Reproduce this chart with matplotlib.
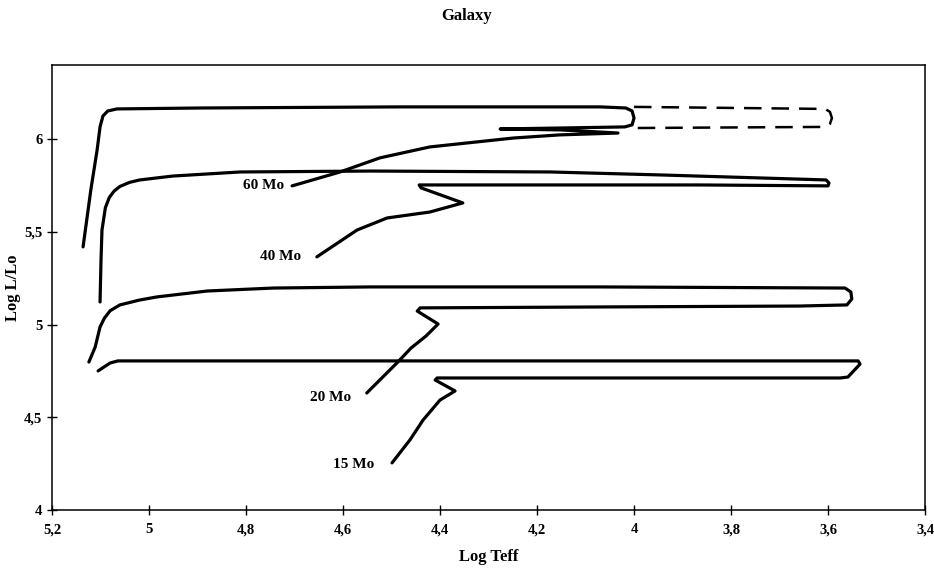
import numpy as np
import matplotlib
matplotlib.use("Agg")
import matplotlib.pyplot as plt
from matplotlib.ticker import FuncFormatter

# evolutionary tracks, log Teff / log L/Lo
teff_60 = [5.136, 5.120, 5.107, 5.101, 5.095, 5.085, 5.066, 4.895, 4.482, 4.070,
           4.017, 4.004, 4.000, 4.004, 4.019, 4.153, 4.276, 4.153, 4.033, 4.153,
           4.249, 4.421, 4.524, 4.606, 4.705]
lum_60 = [5.419, 5.726, 5.942, 6.066, 6.125, 6.152, 6.163, 6.168, 6.174, 6.174,
          6.168, 6.152, 6.114, 6.077, 6.066, 6.060, 6.055, 6.050, 6.033, 6.023,
          6.006, 5.958, 5.899, 5.823, 5.748]

# red excursion of the 60 Mo track (dashed)
teff_60r = [4.000, 3.606, 3.596, 3.592, 3.596, 3.606, 4.000]
lum_60r = [6.174, 6.163, 6.147, 6.114, 6.082, 6.066, 6.060]

teff_40 = [5.101, 5.099, 5.097, 5.090, 5.082, 5.072, 5.060, 5.040, 5.019, 4.951,
           4.812, 4.544, 4.173, 3.946, 3.604, 3.598, 3.600, 3.864, 4.173, 4.421,
           4.443, 4.439, 4.353, 4.421, 4.509, 4.571, 4.654]
lum_40 = [5.122, 5.348, 5.510, 5.630, 5.685, 5.720, 5.745, 5.767, 5.780, 5.801,
          5.823, 5.828, 5.823, 5.807, 5.780, 5.764, 5.748, 5.753, 5.753, 5.753,
          5.753, 5.737, 5.656, 5.607, 5.575, 5.510, 5.365]

teff_20 = [5.124, 5.111, 5.101, 5.092, 5.080, 5.060, 5.020, 4.984, 4.880, 4.744,
           4.544, 4.070, 3.565, 3.553, 3.551, 3.561, 3.658, 4.070, 4.441, 4.447,
           4.404, 4.429, 4.460, 4.487, 4.551]
lum_20 = [4.798, 4.879, 4.987, 5.035, 5.075, 5.106, 5.132, 5.149, 5.181, 5.197,
          5.203, 5.203, 5.197, 5.176, 5.138, 5.106, 5.100, 5.095, 5.090, 5.073,
          5.003, 4.938, 4.873, 4.798, 4.631]

teff_15 = [5.105, 5.093, 5.080, 5.064, 4.276, 3.538, 3.534, 3.559, 3.575, 4.070,
           4.406, 4.410, 4.369, 4.400, 4.435, 4.462, 4.499]
lum_15 = [4.750, 4.771, 4.793, 4.804, 4.804, 4.804, 4.787, 4.717, 4.712, 4.712,
          4.712, 4.701, 4.642, 4.593, 4.485, 4.378, 4.254]

mass_labels = ["60 Mo", "40 Mo", "20 Mo", "15 Mo"]
label_teff = [4.722, 4.687, 4.583, 4.536]
label_lum = [5.748, 5.365, 4.604, 4.243]

xticks = np.round(np.arange(5.2, 3.39, -0.2), 1)
yticks = [4, 4.5, 5, 5.5, 6]

plt.rcParams['font.family'] = ['Liberation Serif', 'DejaVu Serif']

fig = plt.figure(figsize=(9.34, 5.72), dpi=100)
ax = fig.add_axes([0.0557, 0.1084, 0.9347, 0.7780])

lw = 2.3
for tx, ly in [(teff_60, lum_60), (teff_40, lum_40), (teff_20, lum_20), (teff_15, lum_15)]:
    ax.plot(tx, ly, color='black', lw=lw, solid_joinstyle='round', solid_capstyle='round')
ax.plot(teff_60r, lum_60r, color='black', lw=1.8, dashes=(7, 4))

for txt, tx, ly in zip(mass_labels, label_teff, label_lum):
    ax.text(tx, ly, txt, ha='right', va='center', fontsize=11, fontweight='bold')

ax.set_xlim(5.2, 3.4)
ax.set_ylim(4, 6.4)
ax.set_xticks(xticks)
ax.set_yticks(yticks)
comma = FuncFormatter(lambda v, pos: ('%g' % v).replace('.', ','))
ax.xaxis.set_major_formatter(comma)
ax.yaxis.set_major_formatter(comma)
ax.tick_params(direction='inout', length=7, width=1, labelsize=10.5)
ax.tick_params(axis='x', pad=6)
for lab in ax.get_xticklabels() + ax.get_yticklabels():
    lab.set_fontweight('bold')
for sp in ax.spines.values():
    sp.set_linewidth(1.1)

ax.set_xlabel("Log Teff", fontsize=12, fontweight='bold', labelpad=9)
ax.set_ylabel("Log L/Lo", fontsize=12, fontweight='bold')
ax.yaxis.set_label_coords(-0.036, 0.5)
fig.text(0.5, 0.972, "Galaxy", ha='center', va='center', fontsize=12, fontweight='bold')

fig.savefig("out.png", dpi=100)
